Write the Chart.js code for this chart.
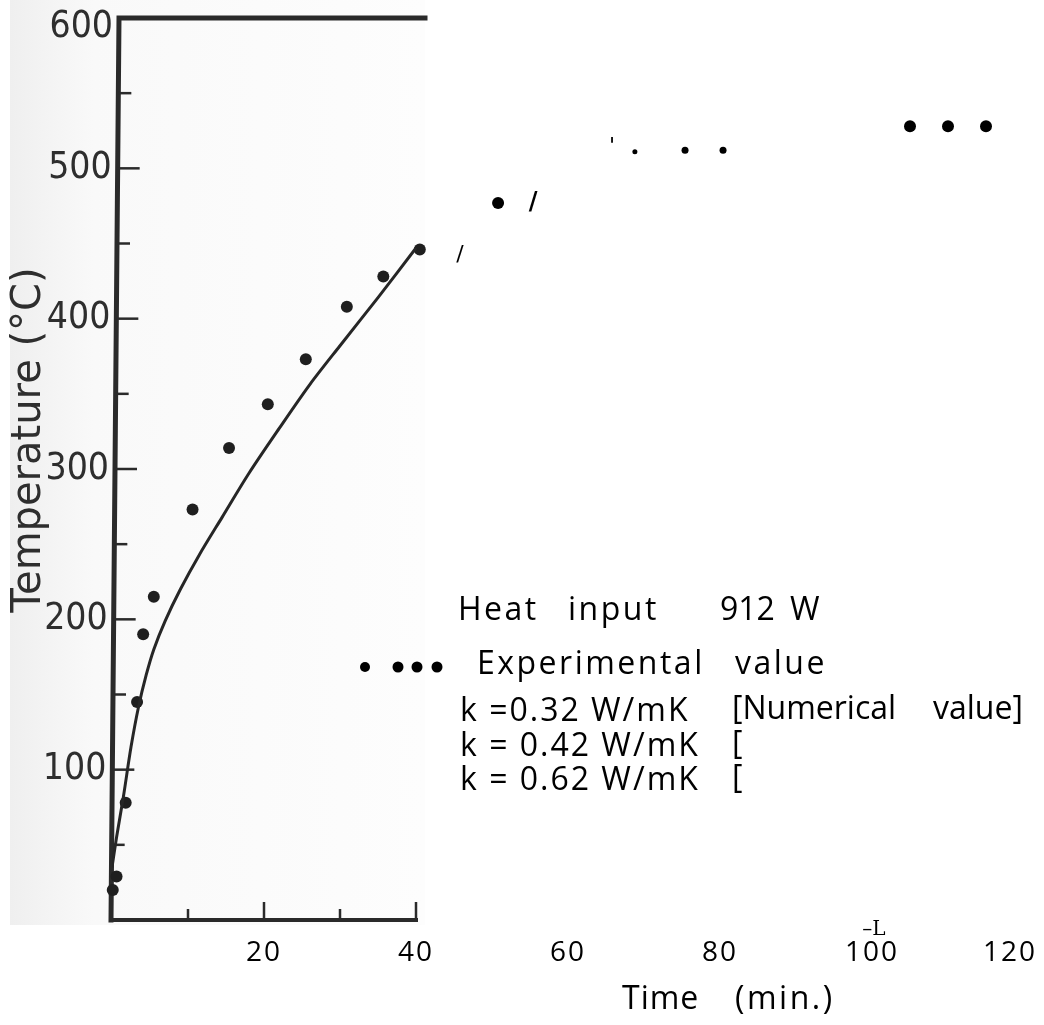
<!DOCTYPE html>
<html>
<head>
<meta charset="utf-8">
<script src="https://cdn.jsdelivr.net/npm/chart.js@4.4.1/dist/chart.umd.min.js"></script>
<style>
  html, body { margin: 0; padding: 0; background: #fff; }
  #tempChart { display: block; }
</style>
</head>
<body>
<canvas id="tempChart" width="1044" height="1025"></canvas>
<script>
// numerical curve, k = 0.32 W/mK
const curveTimes = [0, 0.6, 1.5, 2.5, 3.5, 4.5, 5.5, 7, 9, 11.5, 14.5, 18, 22, 26, 30, 35, 40];
const curveTemps = [35, 55, 82, 115, 142, 163, 180, 199, 220, 243, 268, 297, 327, 356, 382, 414, 447];

// measured temperatures (scanned part of the plot)
const expTimes = [0.1, 0.6, 1.8, 3.3, 4.1, 5.5, 10.6, 15.4, 20.5, 25.5, 30.9, 35.7, 40.5];
const expTemps = [20, 29, 78, 145, 190, 215, 273, 314, 343, 373, 408, 428, 446];

// measured temperatures beyond 40 min
const lateTimes = [50.8, 68.8, 75.4, 80.4, 105, 110, 115];
const lateTemps = [477, 511, 512, 512, 528, 528, 528];
const lateSizes = [6, 2.5, 3.5, 3.5, 6, 6, 6];

// leftover curve fragments
const fragTimes = [45.8, 55.4, 65.8];
const fragTemps = [442, 477, 514];
const fragGlyphs = ['/', '/', '\''];

// tick labels
const yTicks = [100, 200, 300, 400, 500, 600];
const yMinor = [50, 150, 250, 350, 450, 550];
const xTicks = [20, 40, 60, 80, 100, 120];
const xFrameTicks = [10, 20, 30, 40];

const toPoints = (xs, ys) => xs.map((x, i) => ({ x: x, y: ys[i] }));

const ink = '#2a2a2a';
const keyFont = '32px "Open Sans", sans-serif';

// the scanned y axis leans a little to the right towards the top
const lean = v => 8 * v / 600;

function spaced(c, text, x, y, gap) {
  c.letterSpacing = gap + 'px';
  c.fillText(text, x, y);
  c.letterSpacing = '0px';
}

const framePlugin = {
  id: 'framePlugin',
  beforeDraw(chart) {
    const c = chart.ctx;
    // paper tone of the scanned half
    const g = c.createLinearGradient(10, 0, 425, 0);
    g.addColorStop(0, '#efefef');
    g.addColorStop(0.2, '#f9f9f9');
    g.addColorStop(1, '#fdfdfd');
    c.save();
    c.fillStyle = g;
    c.fillRect(10, 0, 415, 925);
    c.restore();
  },
  beforeDatasetsDraw(chart) {
    const c = chart.ctx;
    const xs = chart.scales.x, ys = chart.scales.y;
    const x0 = xs.getPixelForValue(0) - 1;
    const yTop = ys.getPixelForValue(600);
    const yBot = ys.getPixelForValue(0);
    const x40 = xs.getPixelForValue(40);
    const xTop = x0 + lean(600);
    c.save();
    c.strokeStyle = ink;
    c.lineCap = 'square';
    c.lineWidth = 5;
    c.beginPath();
    c.moveTo(x0, yBot);
    c.lineTo(xTop, yTop);
    c.lineTo(425, yTop);
    c.stroke();
    c.lineWidth = 4;
    c.beginPath();
    c.moveTo(x0, yBot);
    c.lineTo(x40, yBot);
    c.stroke();

    // y ticks point inwards
    c.lineWidth = 2.5;
    c.lineCap = 'butt';
    yTicks.forEach(v => {
      if (v === 600) return;
      const y = ys.getPixelForValue(v), xa = x0 + lean(v);
      c.beginPath(); c.moveTo(xa, y); c.lineTo(xa + 22, y); c.stroke();
    });
    yMinor.forEach(v => {
      const y = ys.getPixelForValue(v), xa = x0 + lean(v);
      c.beginPath(); c.moveTo(xa, y); c.lineTo(xa + 13, y); c.stroke();
    });
    xFrameTicks.forEach(v => {
      const x = xs.getPixelForValue(v);
      const len = v % 20 === 0 ? 18 : 11;
      c.beginPath(); c.moveTo(x, yBot); c.lineTo(x, yBot - len); c.stroke();
    });

    // y tick labels
    c.fillStyle = '#2e2e2e';
    c.font = '37px "DejaVu Sans Condensed", "DejaVu Sans", sans-serif';
    c.textAlign = 'right';
    c.textBaseline = 'middle';
    yTicks.forEach(v => {
      const y = Math.max(ys.getPixelForValue(v), 27);
      c.fillText(String(v), x0 + lean(v) - 6, y);
    });

    // y title
    c.save();
    c.translate(30, 440);
    c.rotate(-Math.PI / 2);
    c.textAlign = 'center';
    c.font = '40px "DejaVu Sans", sans-serif';
    c.fillText('Temperature (°C)', 0, 0);
    c.restore();
    c.restore();
  },
  afterDraw(chart) {
    const c = chart.ctx;
    const xs = chart.scales.x, ys = chart.scales.y;
    c.save();
    c.fillStyle = '#000';
    c.textBaseline = 'middle';

    // x tick labels and title
    c.font = '28px "Open Sans", sans-serif';
    c.textAlign = 'center';
    xTicks.forEach(v => {
      const x = Math.min(xs.getPixelForValue(v), 1010);
      spaced(c, String(v), x, 953, 2);
    });
    c.font = '32px "Open Sans", sans-serif';
    c.textAlign = 'left';
    spaced(c, 'Time', 622, 1000, 1);
    spaced(c, '(min.)', 735, 1000, 2.5);
    c.textAlign = 'center';
    c.font = '20px "DejaVu Serif", serif';
    c.fillText('\u2013L', 874, 930);

    // curve fragments
    fragGlyphs.forEach((gl, i) => {
      c.font = (i === 1 ? 'bold 24px' : '22px') + ' "DejaVu Sans", sans-serif';
      c.fillText(gl, xs.getPixelForValue(fragTimes[i]), ys.getPixelForValue(fragTemps[i]));
    });

    // key
    c.textAlign = 'left';
    c.font = keyFont;
    spaced(c, 'Heat', 458, 611, 2.5);
    spaced(c, 'input', 568, 611, 2.5);
    spaced(c, '912', 720, 611, 0);
    spaced(c, 'W', 790, 611, 0);
    spaced(c, 'Experimental', 477, 665, 2.5);
    spaced(c, 'value', 735, 665, 2.5);
    spaced(c, 'k =0.32 W/mK', 460, 712, 2);
    spaced(c, '[Numerical', 732, 710, 0);
    spaced(c, 'value]', 933, 710, 0);
    spaced(c, 'k = 0.42 W/mK', 460, 747, 2);
    c.fillText('[', 732, 745);
    spaced(c, 'k = 0.62 W/mK', 460, 781, 2);
    c.fillText('[', 732, 779);
    [365, 398, 417, 437].forEach((x, i) => {
      c.beginPath();
      c.arc(x, 667, i === 0 ? 5 : 5.5, 0, Math.PI * 2);
      c.fill();
    });
    c.restore();
  }
};

new Chart(document.getElementById('tempChart').getContext('2d'), {
  data: {
    datasets: [
      {
        type: 'line',
        label: 'k = 0.32 W/mK',
        data: toPoints(curveTimes, curveTemps),
        borderColor: '#262626',
        borderWidth: 3,
        pointRadius: 0,
        fill: false,
        tension: 0.3
      },
      {
        type: 'scatter',
        label: 'Experimental value',
        data: toPoints(expTimes, expTemps),
        backgroundColor: '#1f1f1f',
        borderWidth: 0,
        pointRadius: 6,
        clip: false
      },
      {
        type: 'scatter',
        label: 'Experimental value (late)',
        data: toPoints(lateTimes, lateTemps),
        backgroundColor: '#000',
        borderWidth: 0,
        pointRadius: lateSizes,
        clip: false
      }
    ]
  },
  options: {
    responsive: false,
    animation: false,
    layout: {
      padding: { left: 112, right: 20, top: 18, bottom: 105 }
    },
    plugins: {
      legend: { display: false },
      tooltip: { enabled: false }
    },
    scales: {
      x: { type: 'linear', min: 0, max: 120, display: false },
      y: { type: 'linear', min: 0, max: 600, display: false }
    }
  },
  plugins: [framePlugin]
});
</script>
</body>
</html>
